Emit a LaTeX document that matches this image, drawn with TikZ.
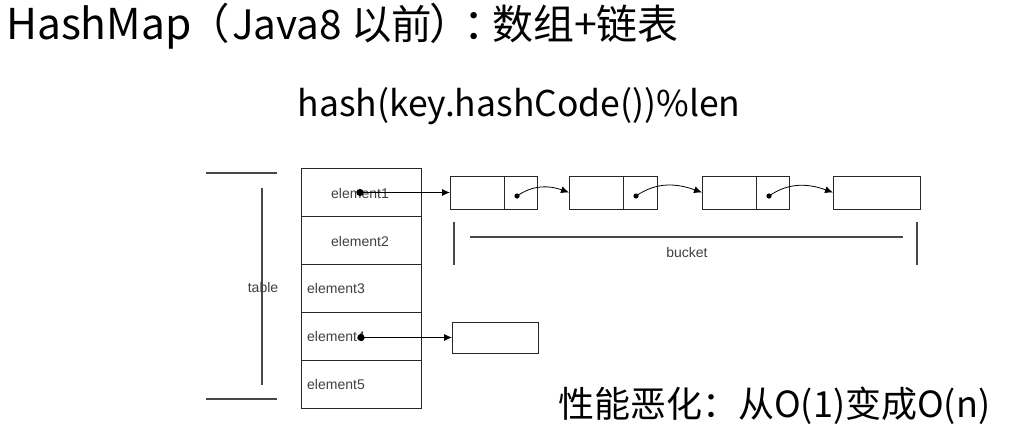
\documentclass[tikz,border=0pt]{standalone}
\usepackage{fontspec}
\setmainfont{Liberation Sans}
\newfontfamily\cjk{Noto Sans CJK SC}
\usetikzlibrary{arrows.meta}
\begin{document}
\begin{tikzpicture}[x=1pt,y=-1pt,
  gline/.style={draw=black!72, line width=1.4pt},
  cell/.style={draw=black!85, line width=0.9pt, minimum width=120pt, minimum height=48pt, inner sep=0pt, outer sep=0pt, anchor=north west},
  half/.style={draw=black!85, line width=0.9pt, minimum height=33pt, inner sep=0pt, outer sep=0pt, anchor=north west},
  lbl/.style={text=black!75, font=\fontsize{14}{16}\selectfont, inner sep=0pt},
  ptr/.style={draw=black, line width=0.8pt, -{Latex[length=8pt,width=7pt]}},
  dot/.style={fill=black},
  big/.style={font=\cjk\fontsize{42.5}{48}\selectfont, inner sep=0pt},
]
\useasboundingbox (0,0) rectangle (1019,436);
\fill[white] (0,0) rectangle (1019,436);

% title, set piece by piece on one baseline
\node[big, anchor=base west] (ti1) at (6,40) {HashMap};
\node[big, anchor=base] (ti2) at (209,40) {（};
\node[big, font=\cjk\fontsize{40.5}{48}\selectfont, anchor=base west] (ti3) at (232,40) {Java8 以前};
\node[big, anchor=base] (ti4) at (451,40) {）};
\node[big, anchor=base] (ti5) at (485,40) {：};
\node[big, font=\cjk\fontsize{41}{48}\selectfont, anchor=base west] (ti6) at (492,40) {数组+链表};

\node[font=\cjk\fontsize{35.5}{42}\selectfont, inner sep=0pt] (formula) at (519,106) {hash(key.hashCode())\%len};
\node[font=\cjk\fontsize{36}{42}\selectfont, inner sep=0pt, anchor=west] (perf) at (558,406) {性能恶化：从O(1)变成O(n)};

% table cells
\node[cell] (c1) at (301,168) {};
\node[cell] (c2) at (301,216) {};
\node[cell] (c3) at (301,264) {};
\node[cell] (c4) at (301,312) {};
\node[cell] (c5) at (301,360) {};
\node[lbl] (t1) at (360,193) {element1};
\node[lbl] (t2) at (360,241) {element2};
\node[lbl, anchor=west] (t3) at (307,288) {element3};
\node[lbl, anchor=west] (t4) at (307,336) {element4};
\node[lbl, anchor=west] (t5) at (307,384) {element5};

% table bracket
\coordinate (tl1) at (206,173); \coordinate (tl2) at (277,173);
\coordinate (bl1) at (206,399); \coordinate (bl2) at (277,399);
\coordinate (vt) at (262,188); \coordinate (vb) at (262,385);
\draw[gline] (tl1) -- (tl2);
\draw[gline] (bl1) -- (bl2);
\draw[gline] (vt) -- (vb);
\node[lbl] (tab) at (263,287) {table};

% bucket boxes
\node[half, minimum width=54pt] (b1a) at (450,176) {};
\node[half, minimum width=33pt] (b1b) at (504,176) {};
\node[half, minimum width=54pt] (b2a) at (569,176) {};
\node[half, minimum width=34pt] (b2b) at (623,176) {};
\node[half, minimum width=54pt] (b3a) at (702,176) {};
\node[half, minimum width=33pt] (b3b) at (756,176) {};
\node[half, minimum width=87pt] (b4) at (833,176) {};
\node[half, minimum width=86pt, minimum height=31pt] (e4box) at (452,322) {};

% pointers
\coordinate (d1) at (360,192.5);
\coordinate (d4) at (361,337.5);
\coordinate (p1) at (517,196);
\coordinate (p2) at (636,196);
\coordinate (p3) at (769,196);
\draw[ptr] (d1) -- (b1a.west);
\draw[ptr] (d4) -- (e4box.west);
\draw[ptr] (p1) to[out=35,in=160] (b2a.west);
\draw[ptr] (p2) to[out=35,in=160] (b3a.west);
\draw[ptr] (p3) to[out=35,in=160] (b4.west);
\fill[dot] (d1) circle[radius=3.6pt];
\fill[dot] (d4) circle[radius=3.6pt];
\fill[dot] (p1) circle[radius=2.6pt];
\fill[dot] (p2) circle[radius=2.6pt];
\fill[dot] (p3) circle[radius=2.6pt];

% bucket bracket
\coordinate (bk1t) at (454,222); \coordinate (bk1b) at (454,265);
\coordinate (bk2t) at (917,222); \coordinate (bk2b) at (917,265);
\coordinate (bh1) at (470,237); \coordinate (bh2) at (903,237);
\draw[gline] (bk1t) -- (bk1b);
\draw[gline] (bk2t) -- (bk2b);
\draw[gline] (bh1) -- (bh2);
\node[lbl] (bucket) at (687,252) {bucket};
\end{tikzpicture}
\end{document}
